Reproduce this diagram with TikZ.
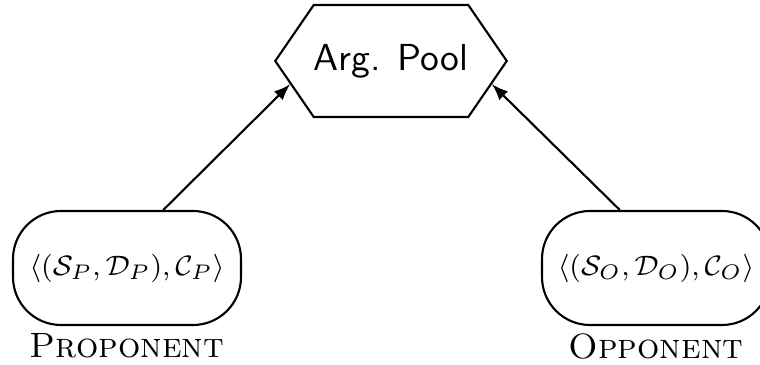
\documentclass[tikz,border=0pt]{standalone}
\usetikzlibrary{shapes.symbols,positioning}
\begin{document}
\begin{tikzpicture}[
  pool/.style={draw,semithick,signal,signal to=east and west,signal pointer angle=111,
    minimum width=2.28cm,minimum height=1.12cm,inner sep=0pt,
    font=\fontsize{10.7pt}{12pt}\selectfont\sffamily},
  party/.style={draw,semithick,rounded corners=0.48cm,minimum width=2.28cm,
    minimum height=1.14cm,inner sep=0pt,font=\footnotesize},
  role/.style={inner sep=1pt,font=\scshape},
]
\useasboundingbox (0,0) rectangle (7.6,-3.65);

\node[pool] (pool) at (3.91,-0.61) {Arg. Pool};
\node[party] (prop) at (1.27,-2.68) {$\langle(\mathcal{S}_P,\mathcal{D}_P),\mathcal{C}_P\rangle$};
\node[party] (opp) at (6.56,-2.68) {$\langle(\mathcal{S}_O,\mathcal{D}_O),\mathcal{C}_O\rangle$};
\node[role,below=1pt of prop] (proplbl) {Proponent};
\node[role,below=1pt of opp] (opplbl) {Opponent};

\draw[semithick,-latex] (prop.58) -- (pool.193);
\draw[semithick,-latex] (opp.122) -- (pool.347);

\end{tikzpicture}
\end{document}
